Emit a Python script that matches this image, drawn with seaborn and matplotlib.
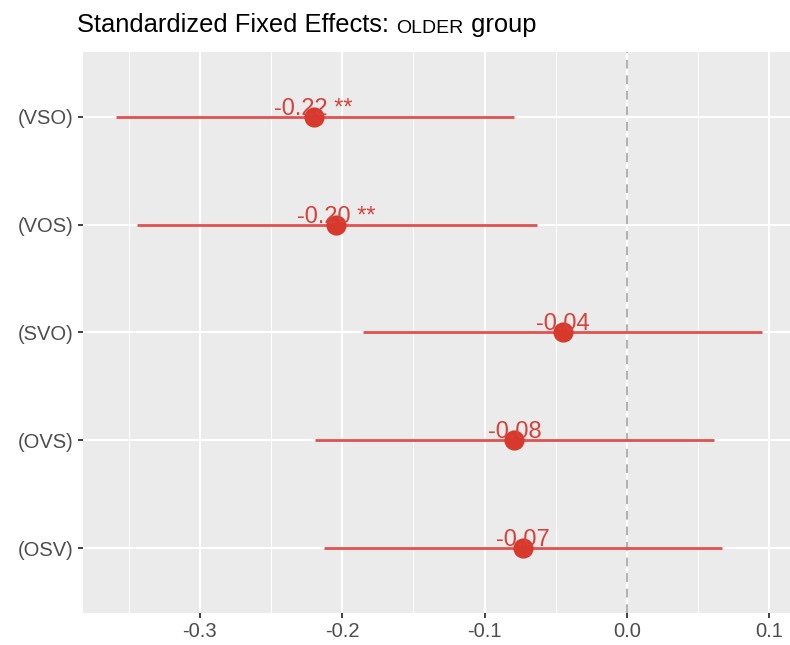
import numpy as np
import pandas as pd
import seaborn as sns
import matplotlib.pyplot as plt
from matplotlib.ticker import MultipleLocator

# model terms, top to bottom
terms = ['(VSO)', '(VOS)', '(SVO)', '(OVS)', '(OSV)']
estimates = [-0.220, -0.204, -0.045, -0.079, -0.073]
ci_low = [-0.359, -0.344, -0.185, -0.219, -0.213]
ci_high = [-0.079, -0.063, 0.095, 0.061, 0.067]
labels = ['-0.22 **', '-0.20 **', '-0.04', '-0.08', '-0.07']

df = pd.DataFrame({'term': terms, 'est': estimates,
                   'lo': ci_low, 'hi': ci_high, 'label': labels})

sns.set_theme(style='darkgrid')
plt.rcParams['font.family'] = ['Liberation Sans', 'DejaVu Sans']

line_col = '#DE5250'
dot_col = '#D73A2C'
txt_col = '#D9413B'

fig = plt.figure(figsize=(7.9, 6.45), dpi=100)
ax = fig.add_axes([0.105, 0.0496, 0.895, 0.870])
ax.set_facecolor('#EBEBEB')

pos = np.arange(len(df))
ax.axvline(0, color='#B0B0B0', lw=1.4, ls=(0, (4.5, 3.5)), zorder=1)
ax.hlines(pos, df['lo'], df['hi'], color=line_col, lw=2.0, zorder=2)
sns.pointplot(data=df, x='est', y='term', order=terms, orient='h',
              linestyle='none', errorbar=None, color=dot_col,
              markersize=12.5, ax=ax, zorder=3)
for i, r in df.iterrows():
    ax.text(r['est'], i - 0.018, r['label'], color=txt_col, fontsize=17,
            ha='center', va='baseline', zorder=4)

ax.set_xlim(-0.382, 0.1145)
ax.set_ylim(4.6, -0.6)
ax.xaxis.set_minor_locator(MultipleLocator(0.05))
ax.set_xticks([-0.3, -0.2, -0.1, 0.0, 0.1])
ax.set_xticklabels(['-0.3', '-0.2', '-0.1', '0.0', '0.1'])
ax.grid(which='major', color='white', lw=1.5)
ax.grid(which='minor', axis='x', color='white', lw=0.75)
ax.set_axisbelow(True)
ax.set_xlabel('')
ax.set_ylabel('')
ax.tick_params(axis='both', which='major', bottom=True, left=True,
               length=3.5, width=1.3, color='#333333',
               labelcolor='#4D4D4D', labelsize=14.5, pad=3)
ax.tick_params(which='minor', length=0)
for s in ax.spines.values():
    s.set_visible(False)

# title with small-caps style group name
t1 = fig.text(0.098, 0.950, 'Standardized Fixed Effects: ', fontsize=18.4,
              color='black', ha='left', va='baseline')
t2 = ax.annotate('OLDER', xy=(1, 0), xycoords=t1, fontsize=14,
                 ha='left', va='bottom', color='black')
ax.annotate(' group', xy=(1, 0), xycoords=t2, fontsize=18.4,
            ha='left', va='bottom', color='black')

fig.savefig('out.png', dpi=100)
